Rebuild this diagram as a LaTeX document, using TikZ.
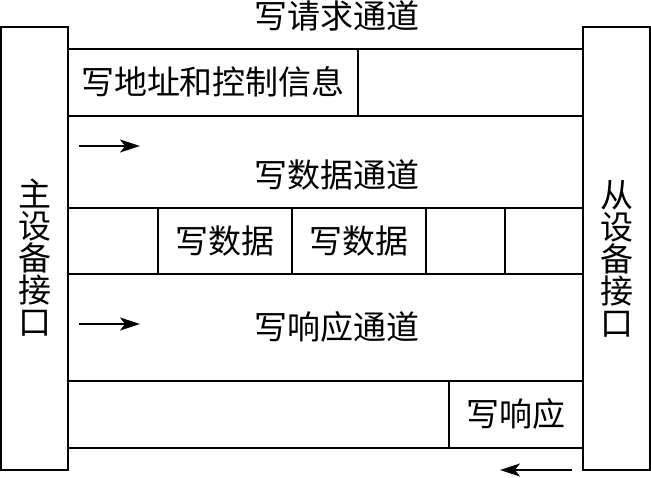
\documentclass[tikz,border=0pt]{standalone}
\usepackage{fontspec}
\newfontfamily\cjk{Noto Sans CJK SC}
\usetikzlibrary{arrows.meta, positioning}

\begin{document}
\begin{tikzpicture}[x=1pt, y=-1pt, line width=1.6pt,
  txt/.style={font=\cjk\fontsize{33}{32}\selectfont, inner sep=0pt},
  port/.style={txt, align=center},
  flow/.style={-{Stealth[length=20pt, width=13pt, inset=5pt]}, line width=1.5pt}]
  \useasboundingbox (0,0) rectangle (651,477);

  % master / slave interfaces
  \draw (1,27) rectangle (68,470);
  \draw (583,27) rectangle (650,470);
  \node[port] (master) at (35,258) {主\\设\\备\\接\\口};
  \node[port] (slave) at (617,259) {从\\设\\备\\接\\口};

  % write request channel
  \node[txt] (reqch) at (337,16) {写请求通道};
  \draw (68,49) rectangle (583,116);
  \draw (358,49) -- (358,116);
  \node[txt] (addr) at (213,82) {写地址和控制信息};

  % write data channel
  \coordinate (d1s) at (79,146);
  \coordinate (d1e) at (140,146);
  \draw[flow] (d1s) -- (d1e);
  \node[txt] (datach) at (337,175) {写数据通道};
  \draw (68,208) rectangle (583,274);
  \foreach \x in {158,292,426,505}
    \draw (\x,208) -- (\x,274);
  \node[txt] (wd1) at (225,241) {写数据};
  \node[txt] (wd2) at (359,241) {写数据};

  % write response channel
  \coordinate (r1s) at (79,324);
  \coordinate (r1e) at (140,324);
  \draw[flow] (r1s) -- (r1e);
  \node[txt] (respch) at (337,327) {写响应通道};
  \draw (68,381) rectangle (583,448);
  \draw (449,381) -- (449,448);
  \node[txt] (resp) at (516,414) {写响应};
  \coordinate (r2s) at (572,470);
  \coordinate (r2e) at (500,470);
  \draw[flow] (r2s) -- (r2e);
\end{tikzpicture}
\end{document}
